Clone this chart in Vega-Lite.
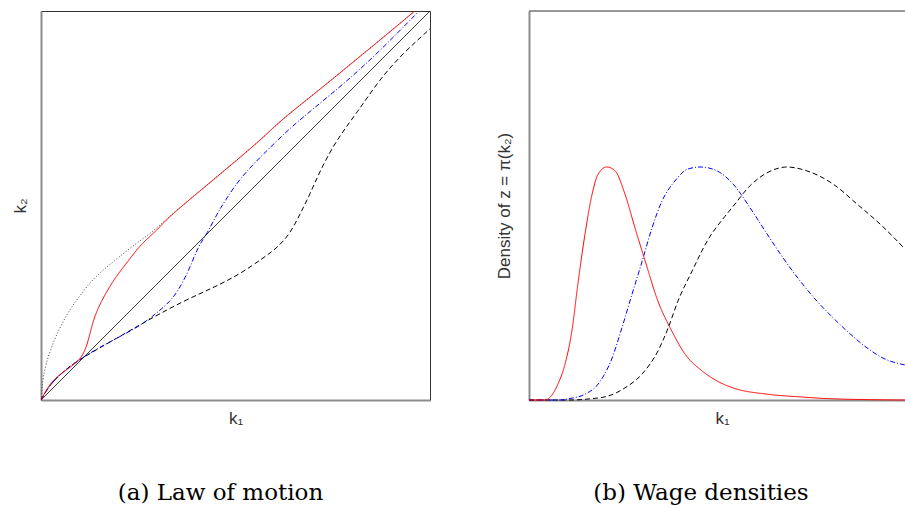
{
  "$schema": "https://vega.github.io/schema/vega-lite/v6.json",
  "padding": {"left": 10, "top": 10, "right": 0, "bottom": 0},
  "background": "white",
  "config": {
    "font": "Liberation Sans",
    "axis": {"grid": false, "labels": false, "ticks": false, "titleFont": "Liberation Sans", "titleFontSize": 17, "titleFontWeight": "normal", "titleColor": "#333333", "domainColor": "#8c8c8c", "domainWidth": 2},
    "title": {"font": "DejaVu Serif", "fontSize": 23, "fontWeight": "normal", "color": "#000000", "orient": "bottom", "offset": 56, "frame": "bounds", "anchor": "middle"}
  },
  "datasets": {
    "law": [
      {"series": "dotted", "k1": 0, "k2": 0},
      {"series": "dotted", "k1": 0.003, "k2": 0.028},
      {"series": "dotted", "k1": 0.005, "k2": 0.057},
      {"series": "dotted", "k1": 0.013, "k2": 0.093},
      {"series": "dotted", "k1": 0.026, "k2": 0.134},
      {"series": "dotted", "k1": 0.044, "k2": 0.177},
      {"series": "dotted", "k1": 0.062, "k2": 0.211},
      {"series": "dotted", "k1": 0.077, "k2": 0.237},
      {"series": "dotted", "k1": 0.103, "k2": 0.272},
      {"series": "dotted", "k1": 0.129, "k2": 0.306},
      {"series": "dotted", "k1": 0.165, "k2": 0.339},
      {"series": "dotted", "k1": 0.198, "k2": 0.365},
      {"series": "dotted", "k1": 0.242, "k2": 0.401},
      {"series": "dotted", "k1": 0.283, "k2": 0.429},
      {"series": "dotted", "k1": 0.326, "k2": 0.468},
      {"series": "dotted", "k1": 0.378, "k2": 0.512},
      {"series": "dotted", "k1": 0.486, "k2": 0.602},
      {"series": "dotted", "k1": 0.571, "k2": 0.674},
      {"series": "dotted", "k1": 0.614, "k2": 0.717},
      {"series": "dotted", "k1": 0.699, "k2": 0.784},
      {"series": "dotted", "k1": 0.787, "k2": 0.856},
      {"series": "dotted", "k1": 0.871, "k2": 0.925},
      {"series": "dotted", "k1": 0.961, "k2": 1.0},
      {"series": "diag", "k1": 0, "k2": 0},
      {"series": "diag", "k1": 1, "k2": 1},
      {"series": "dashed", "k1": 0, "k2": 0},
      {"series": "dashed", "k1": 0.023, "k2": 0.041},
      {"series": "dashed", "k1": 0.067, "k2": 0.082},
      {"series": "dashed", "k1": 0.105, "k2": 0.108},
      {"series": "dashed", "k1": 0.195, "k2": 0.159},
      {"series": "dashed", "k1": 0.28, "k2": 0.208},
      {"series": "dashed", "k1": 0.365, "k2": 0.254},
      {"series": "dashed", "k1": 0.442, "k2": 0.288},
      {"series": "dashed", "k1": 0.512, "k2": 0.324},
      {"series": "dashed", "k1": 0.571, "k2": 0.365},
      {"series": "dashed", "k1": 0.607, "k2": 0.391},
      {"series": "dashed", "k1": 0.64, "k2": 0.427},
      {"series": "dashed", "k1": 0.666, "k2": 0.478},
      {"series": "dashed", "k1": 0.692, "k2": 0.53},
      {"series": "dashed", "k1": 0.717, "k2": 0.589},
      {"series": "dashed", "k1": 0.761, "k2": 0.671},
      {"series": "dashed", "k1": 0.812, "k2": 0.738},
      {"series": "dashed", "k1": 0.871, "k2": 0.825},
      {"series": "dashed", "k1": 0.931, "k2": 0.892},
      {"series": "dashed", "k1": 1.0, "k2": 0.954},
      {"series": "blue", "k1": 0, "k2": 0},
      {"series": "blue", "k1": 0.023, "k2": 0.041},
      {"series": "blue", "k1": 0.067, "k2": 0.082},
      {"series": "blue", "k1": 0.105, "k2": 0.108},
      {"series": "blue", "k1": 0.152, "k2": 0.136},
      {"series": "blue", "k1": 0.195, "k2": 0.159},
      {"series": "blue", "k1": 0.254, "k2": 0.19},
      {"series": "blue", "k1": 0.301, "k2": 0.226},
      {"series": "blue", "k1": 0.332, "k2": 0.254},
      {"series": "blue", "k1": 0.352, "k2": 0.28},
      {"series": "blue", "k1": 0.38, "k2": 0.332},
      {"series": "blue", "k1": 0.404, "k2": 0.396},
      {"series": "blue", "k1": 0.427, "k2": 0.427},
      {"series": "blue", "k1": 0.452, "k2": 0.478},
      {"series": "blue", "k1": 0.473, "k2": 0.512},
      {"series": "blue", "k1": 0.512, "k2": 0.571},
      {"series": "blue", "k1": 0.571, "k2": 0.632},
      {"series": "blue", "k1": 0.64, "k2": 0.699},
      {"series": "blue", "k1": 0.699, "k2": 0.748},
      {"series": "blue", "k1": 0.787, "k2": 0.82},
      {"series": "blue", "k1": 0.871, "k2": 0.897},
      {"series": "blue", "k1": 0.969, "k2": 0.997},
      {"series": "red", "k1": 0, "k2": 0},
      {"series": "red", "k1": 0.026, "k2": 0.049},
      {"series": "red", "k1": 0.062, "k2": 0.075},
      {"series": "red", "k1": 0.087, "k2": 0.093},
      {"series": "red", "k1": 0.103, "k2": 0.108},
      {"series": "red", "k1": 0.116, "k2": 0.134},
      {"series": "red", "k1": 0.126, "k2": 0.17},
      {"series": "red", "k1": 0.134, "k2": 0.203},
      {"series": "red", "k1": 0.147, "k2": 0.237},
      {"series": "red", "k1": 0.165, "k2": 0.272},
      {"series": "red", "k1": 0.19, "k2": 0.314},
      {"series": "red", "k1": 0.224, "k2": 0.357},
      {"series": "red", "k1": 0.257, "k2": 0.401},
      {"series": "red", "k1": 0.296, "k2": 0.434},
      {"series": "red", "k1": 0.326, "k2": 0.468},
      {"series": "red", "k1": 0.378, "k2": 0.512},
      {"series": "red", "k1": 0.486, "k2": 0.602},
      {"series": "red", "k1": 0.571, "k2": 0.674},
      {"series": "red", "k1": 0.614, "k2": 0.717},
      {"series": "red", "k1": 0.699, "k2": 0.784},
      {"series": "red", "k1": 0.787, "k2": 0.856},
      {"series": "red", "k1": 0.871, "k2": 0.925},
      {"series": "red", "k1": 0.961, "k2": 1.0}
    ],
    "dens": [
      {"series": "dashed", "k1": 0, "d": 0},
      {"series": "dashed", "k1": 0.109, "d": 0},
      {"series": "dashed", "k1": 0.162, "d": 0.003},
      {"series": "dashed", "k1": 0.21, "d": 0.01},
      {"series": "dashed", "k1": 0.255, "d": 0.031},
      {"series": "dashed", "k1": 0.301, "d": 0.067},
      {"series": "dashed", "k1": 0.343, "d": 0.126},
      {"series": "dashed", "k1": 0.37, "d": 0.185},
      {"series": "dashed", "k1": 0.396, "d": 0.254},
      {"series": "dashed", "k1": 0.434, "d": 0.332},
      {"series": "dashed", "k1": 0.476, "d": 0.412},
      {"series": "dashed", "k1": 0.521, "d": 0.472},
      {"series": "dashed", "k1": 0.543, "d": 0.498},
      {"series": "dashed", "k1": 0.588, "d": 0.551},
      {"series": "dashed", "k1": 0.633, "d": 0.584},
      {"series": "dashed", "k1": 0.686, "d": 0.599},
      {"series": "dashed", "k1": 0.739, "d": 0.589},
      {"series": "dashed", "k1": 0.809, "d": 0.555},
      {"series": "dashed", "k1": 0.872, "d": 0.504},
      {"series": "dashed", "k1": 0.934, "d": 0.452},
      {"series": "dashed", "k1": 1.0, "d": 0.388},
      {"series": "blue", "k1": 0, "d": 0},
      {"series": "blue", "k1": 0.082, "d": 0},
      {"series": "blue", "k1": 0.104, "d": 0.003},
      {"series": "blue", "k1": 0.149, "d": 0.015},
      {"series": "blue", "k1": 0.184, "d": 0.041},
      {"series": "blue", "k1": 0.221, "d": 0.108},
      {"series": "blue", "k1": 0.247, "d": 0.185},
      {"series": "blue", "k1": 0.274, "d": 0.272},
      {"series": "blue", "k1": 0.301, "d": 0.357},
      {"series": "blue", "k1": 0.327, "d": 0.442},
      {"series": "blue", "k1": 0.354, "d": 0.512},
      {"series": "blue", "k1": 0.388, "d": 0.563},
      {"series": "blue", "k1": 0.423, "d": 0.594},
      {"series": "blue", "k1": 0.457, "d": 0.599},
      {"series": "blue", "k1": 0.5, "d": 0.589},
      {"series": "blue", "k1": 0.543, "d": 0.555},
      {"series": "blue", "k1": 0.588, "d": 0.494},
      {"series": "blue", "k1": 0.633, "d": 0.427},
      {"series": "blue", "k1": 0.676, "d": 0.365},
      {"series": "blue", "k1": 0.721, "d": 0.306},
      {"series": "blue", "k1": 0.766, "d": 0.254},
      {"series": "blue", "k1": 0.809, "d": 0.211},
      {"series": "blue", "k1": 0.854, "d": 0.17},
      {"series": "blue", "k1": 0.899, "d": 0.134},
      {"series": "blue", "k1": 0.941, "d": 0.108},
      {"series": "blue", "k1": 1.0, "d": 0.09},
      {"series": "red", "k1": 0, "d": 0},
      {"series": "red", "k1": 0.043, "d": 0},
      {"series": "red", "k1": 0.051, "d": 0.003},
      {"series": "red", "k1": 0.077, "d": 0.041},
      {"series": "red", "k1": 0.096, "d": 0.093},
      {"series": "red", "k1": 0.114, "d": 0.177},
      {"series": "red", "k1": 0.13, "d": 0.298},
      {"series": "red", "k1": 0.149, "d": 0.427},
      {"series": "red", "k1": 0.168, "d": 0.53},
      {"series": "red", "k1": 0.184, "d": 0.581},
      {"series": "red", "k1": 0.207, "d": 0.599},
      {"series": "red", "k1": 0.229, "d": 0.589},
      {"series": "red", "k1": 0.255, "d": 0.53},
      {"series": "red", "k1": 0.282, "d": 0.442},
      {"series": "red", "k1": 0.309, "d": 0.357},
      {"series": "red", "k1": 0.343, "d": 0.254},
      {"series": "red", "k1": 0.38, "d": 0.177},
      {"series": "red", "k1": 0.415, "d": 0.118},
      {"series": "red", "k1": 0.46, "d": 0.075},
      {"series": "red", "k1": 0.5, "d": 0.049},
      {"series": "red", "k1": 0.543, "d": 0.031},
      {"series": "red", "k1": 0.633, "d": 0.015},
      {"series": "red", "k1": 0.721, "d": 0.008},
      {"series": "red", "k1": 0.809, "d": 0.003},
      {"series": "red", "k1": 1.0, "d": 0}
    ]
  },
  "spacing": 64,
  "hconcat": [
    {
      "width": 389,
      "height": 389,
      "view": {"stroke": "#333333", "strokeWidth": 1},
      "title": {"text": "(a) Law of motion"},
      "data": {"name": "law"},
      "mark": {"type": "line", "interpolate": "basis", "strokeWidth": 1, "clip": true},
      "encoding": {
        "x": {"field": "k1", "type": "quantitative", "scale": {"domain": [0, 1], "nice": false, "zero": false}, "axis": {"title": "k₁", "titlePadding": 10}},
        "y": {"field": "k2", "type": "quantitative", "scale": {"domain": [0, 1], "nice": false, "zero": false}, "axis": {"title": "k₂", "titlePadding": 12}},
        "color": {"field": "series", "type": "nominal", "sort": null, "scale": {"domain": ["dotted", "diag", "dashed", "blue", "red"], "range": ["#444444", "#000000", "#000000", "#0000ff", "#ff0000"]}, "legend": null},
        "strokeDash": {"field": "series", "type": "nominal", "sort": null, "scale": {"domain": ["dotted", "diag", "dashed", "blue", "red"], "range": [[1, 2], [1, 0], [5, 3], [5, 2, 1, 2], [1, 0]]}, "legend": null}
      }
    },
    {
      "width": 376,
      "height": 389,
      "view": {"stroke": null},
      "title": {"text": "(b) Wage densities"},
      "layer": [
        {
          "data": {"name": "dens"},
          "mark": {"type": "line", "interpolate": "monotone", "strokeWidth": 1},
          "encoding": {
            "x": {"field": "k1", "type": "quantitative", "scale": {"domain": [0, 1], "nice": false, "zero": false}, "axis": {"title": "k₁", "titlePadding": 10, "titleX": 193}},
            "y": {"field": "d", "type": "quantitative", "scale": {"domain": [0, 1], "nice": false, "zero": false}, "axis": {"title": "Density of z = π(k₂)", "titlePadding": 16}},
            "color": {"field": "series", "type": "nominal", "sort": null, "scale": {"domain": ["dashed", "blue", "red"], "range": ["#000000", "#0000ff", "#ff0000"]}, "legend": null},
            "strokeDash": {"field": "series", "type": "nominal", "sort": null, "scale": {"domain": ["dashed", "blue", "red"], "range": [[5, 3], [5, 2, 1, 2], [1, 0]]}, "legend": null}
          }
        },
        {
          "data": {"values": [{}]},
          "mark": {"type": "rule", "color": "#333333", "strokeWidth": 1},
          "encoding": {"y": {"datum": 1}}
        }
      ]
    }
  ]
}
